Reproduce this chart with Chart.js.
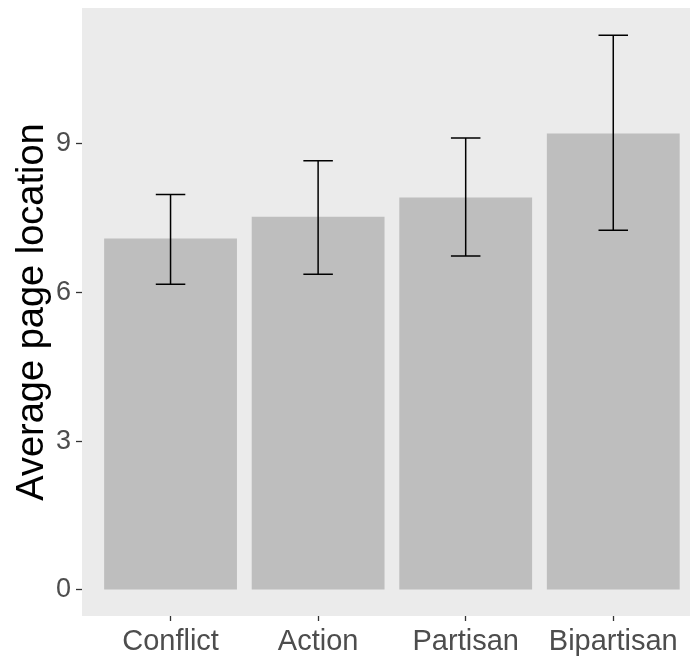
<!DOCTYPE html>
<html>
<head>
<meta charset="utf-8">
<script src="https://cdn.jsdelivr.net/npm/chart.js@4"></script>
<style>
  html, body { margin: 0; padding: 0; background: #fff; overflow: hidden; }
  #wrap { width: 691px; height: 658px; }
</style>
</head>
<body>
<div id="wrap"><canvas id="canvas" width="691" height="658"></canvas></div>
<script>
// data
const categories = ['Conflict', 'Action', 'Partisan', 'Bipartisan'];
const means = [7.08, 7.52, 7.91, 9.20];
const errLow = [6.16, 6.36, 6.73, 7.25];
const errHigh = [7.97, 8.65, 9.11, 11.18];
const yTicks = [0, 3, 6, 9];

const FONT = "'Liberation Sans', Arial, sans-serif";

// grey panel behind the bars
const panelBg = {
  id: 'panelBg',
  beforeDraw(chart) {
    const { ctx, chartArea: a } = chart;
    ctx.save();
    ctx.fillStyle = '#EBEBEB';
    ctx.fillRect(a.left, a.top, a.right - a.left, a.bottom - a.top);
    ctx.restore();
  }
};

// error bars from errLow / errHigh, drawn through the scales
const errorBars = {
  id: 'errorBars',
  afterDatasetsDraw(chart) {
    const { ctx, scales: { x, y } } = chart;
    const capHalf = x.getPixelForValue(1.1) - x.getPixelForValue(1);
    ctx.save();
    ctx.strokeStyle = '#000';
    ctx.lineWidth = 1.5;
    categories.forEach((c, i) => {
      const px = x.getPixelForValue(i + 1);
      const lo = y.getPixelForValue(errLow[i]);
      const hi = y.getPixelForValue(errHigh[i]);
      ctx.beginPath();
      ctx.moveTo(px, lo); ctx.lineTo(px, hi);
      ctx.moveTo(px - capHalf, lo); ctx.lineTo(px + capHalf, lo);
      ctx.moveTo(px - capHalf, hi); ctx.lineTo(px + capHalf, hi);
      ctx.stroke();
    });
    ctx.restore();
  }
};

const ctx = document.getElementById('canvas').getContext('2d');
const chart = new Chart(ctx, {
  type: 'bar',
  data: {
    datasets: [{
      data: means.map((m, i) => ({ x: i + 1, y: m })),
      backgroundColor: '#BEBEBE',
      borderWidth: 0,
      categoryPercentage: 0.9,
      barPercentage: 1
    }]
  },
  options: {
    responsive: false,
    animation: false,
    layout: { padding: { top: 8, right: 1, left: 0, bottom: 0 } },
    plugins: { legend: { display: false }, tooltip: { enabled: false } },
    scales: {
      x: {
        type: 'linear',
        offset: false,
        min: 0.4,
        max: 4.52,
        afterBuildTicks: s => { s.ticks = [1, 2, 3, 4].map(v => ({ value: v })); },
        afterFit: s => { s.height = 42; s.paddingLeft = 0; s.paddingRight = 0; },
        border: { display: false },
        grid: { offset: false, drawOnChartArea: false, drawTicks: true, tickLength: 5, tickColor: '#333', tickWidth: 1.3 },
        ticks: {
          padding: 4,
          color: '#4D4D4D',
          font: { family: FONT, size: 29 },
          autoSkip: false,
          maxRotation: 0,
          callback: v => categories[v - 1]
        }
      },
      y: {
        min: -0.524,
        max: 11.727,
        afterBuildTicks: s => { s.ticks = yTicks.map(v => ({ value: v })); },
        afterFit: s => { s.width = 82; s.paddingTop = 0; s.paddingBottom = 0; },
        border: { display: false },
        grid: { drawOnChartArea: false, drawTicks: true, tickLength: 6, tickColor: '#333', tickWidth: 1.3 },
        ticks: {
          padding: 5,
          color: '#4D4D4D',
          font: { family: FONT, size: 27 },
          callback: v => String(v)
        },
        title: {
          display: true,
          text: 'Average page location',
          color: '#000',
          font: { family: FONT, size: 38 },
          padding: { top: 10, bottom: 0 }
        }
      }
    }
  },
  plugins: [panelBg, errorBars]
});
</script>
</body>
</html>
